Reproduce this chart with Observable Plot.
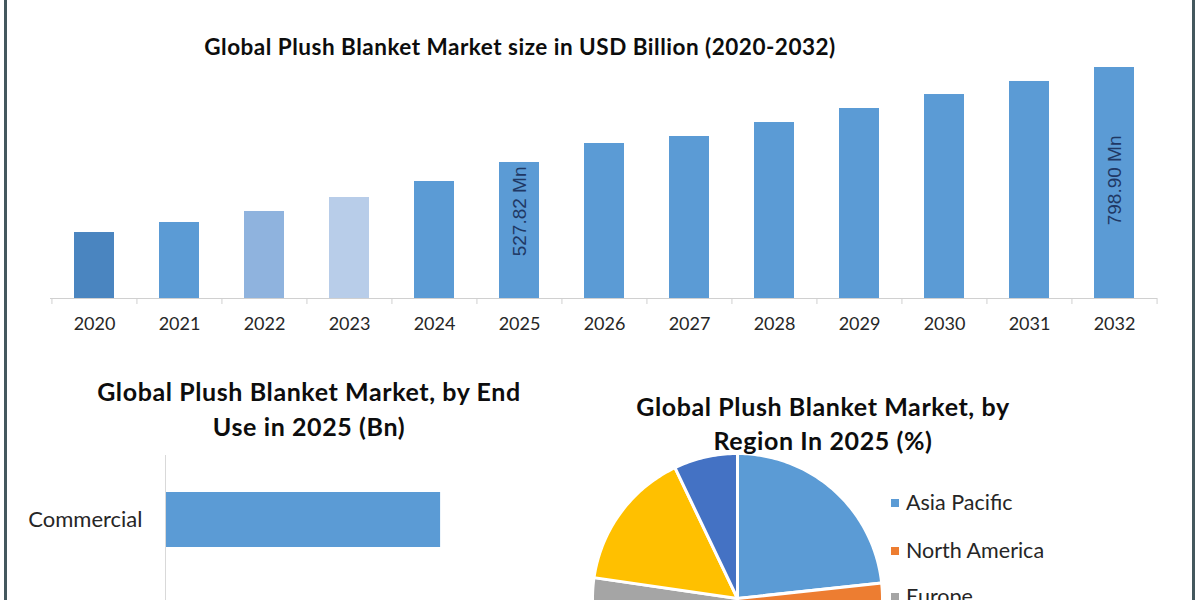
<!DOCTYPE html>
<html>
<head>
<meta charset="utf-8">
<script src="https://cdn.jsdelivr.net/npm/d3@7"></script>
<script src="https://cdn.jsdelivr.net/npm/@observablehq/plot@0.6"></script>
<style>
  html, body { margin: 0; padding: 0; }
  body { width: 1200px; height: 600px; overflow: hidden; position: relative; background: #ffffff; font-family: Lato, "Open Sans", sans-serif; }
  .abs { position: absolute; }
  .title { font-weight: 700; color: #0d0d0d; text-align: center; white-space: nowrap; }
  .border { position: absolute; top: 0; height: 600px; width: 3px; background: #44585e; }
  .leg { position: absolute; font-size: 21.5px; line-height: 24px; color: #262626; white-space: nowrap; }
  .leg span.sw { display: inline-block; width: 8px; height: 8px; margin-right: 7px; vertical-align: 3px; }
  svg { overflow: visible; }
</style>
</head>
<body>
<script>
// ---------- Data ----------
const years = ["2020","2021","2022","2023","2024","2025","2026","2027","2028","2029","2030","2031","2032"];
const marketSize = [328.0, 356.6, 388.0, 427.9, 473.6, 527.82, 582.0, 602.0, 641.9, 681.9, 721.8, 759.0, 798.90];
const barColors = ["#4a85c0","#5b9bd5","#8fb3de","#b8cde9","#5b9bd5","#5b9bd5","#5b9bd5","#5b9bd5","#5b9bd5","#5b9bd5","#5b9bd5","#5b9bd5","#5b9bd5"];
const valueLabels = [{year: "2025", value: 527.82, text: "527.82 Mn"}, {year: "2032", value: 798.90, text: "798.90 Mn"}];
const axisMin = 139.7;

const endUse = ["Commercial"];
const endUseValues = [0.28];

const regions = ["Asia Pacific", "North America", "Europe", "Middle East and Africa", "South America"];
const regionShares = [23.3, 28.0, 26.0, 15.6, 7.1];
const regionColors = ["#5b9bd5", "#ed7d31", "#a5a5a5", "#ffc000", "#4472c4"];
const legendShown = 3; // entries visible within the picture

const titleMain = "Global Plush Blanket Market size in USD Billion (2020-2032)";
const titleEndUse = ["Global Plush Blanket Market, by End", "Use in 2025 (Bn)"];
const titleRegion = ["Global Plush Blanket Market, by", "Region In 2025 (%)"];

// ---------- helpers ----------
function addDiv(cls, html, style) {
  const d = document.createElement("div");
  d.className = cls;
  d.innerHTML = html;
  Object.assign(d.style, style);
  document.body.appendChild(d);
  return d;
}
function place(node, x, y) {
  node.style.position = "absolute";
  node.style.left = x + "px";
  node.style.top = y + "px";
  document.body.appendChild(node);
}

// borders
addDiv("border", "", {left: "4px"});
addDiv("border", "", {left: "1192px"});

// ---------- Top bar chart ----------
const barData = years.map((y, i) => ({year: y, value: marketSize[i], color: barColors[i]}));
const W = 1200, mL = 50, mR = 43;
const step = (W - mL - mR) / years.length;

const topPlot = Plot.plot({
  width: W, height: 345,
  marginLeft: mL, marginRight: mR, marginTop: 67, marginBottom: 47,
  style: {background: "transparent", fontFamily: "Lato, sans-serif"},
  x: {domain: years, paddingInner: 0.53, paddingOuter: 0.265, label: null},
  y: {domain: [axisMin, 798.90], axis: null},
  marks: [
    Plot.barY(barData, {x: "year", y1: () => axisMin, y2: "value", fill: "color"}),
    Plot.ruleY([axisMin], {stroke: "#d0d0d0", strokeWidth: 1}),
    Plot.axisX({tickSize: 6, text: null, stroke: "#d0d0d0", dx: -step / 2, label: null}),
    Plot.axisX({ticks: [years[years.length - 1]], tickSize: 6, text: null, stroke: "#d0d0d0", dx: step / 2, label: null}),
    Plot.axisX({tickSize: 0, tickPadding: 19, fontSize: 18, fill: "#262626", label: null}),
    Plot.text(valueLabels.filter(d => d.year === "2025"), {x: "year", y: "value", text: "text", rotate: -90, textAnchor: "end", lineAnchor: "middle", dy: 4, fontSize: 19, fontFamily: "Liberation Sans, Arial, sans-serif", fill: "#1f3864"}),
    Plot.text(valueLabels.filter(d => d.year === "2032"), {x: "year", y: "value", text: "text", rotate: -90, textAnchor: "end", lineAnchor: "middle", dy: 68, fontSize: 19, fontFamily: "Liberation Sans, Arial, sans-serif", fill: "#1f3864"})
  ]
});
place(topPlot, 0, 0);

addDiv("title abs", titleMain, {left: "0px", width: "1040px", top: "36px", fontSize: "22.5px", lineHeight: "22px", letterSpacing: "0.5px"});

// ---------- Bottom-left horizontal bar ----------
const endData = endUse.map((c, i) => ({cat: c, value: endUseValues[i]}));
const endPlot = Plot.plot({
  width: 600, height: 145,
  marginLeft: 165, marginRight: 42, marginTop: 37, marginBottom: 53,
  style: {background: "transparent", fontFamily: "Lato, sans-serif"},
  x: {domain: [0, 0.4], axis: null},
  y: {domain: endUse, paddingInner: 0, paddingOuter: 0, label: null},
  marks: [
    Plot.barX(endData, {y: "cat", x: "value", fill: "#5b9bd5"}),
    Plot.ruleX([0], {stroke: "#d9d9d9", insetTop: -37, insetBottom: -60}),
    Plot.axisY({tickSize: 0, tickPadding: 23, fontSize: 22, fill: "#262626", label: null})
  ]
});
place(endPlot, 0, 455);

addDiv("title abs", titleEndUse.join("<br>"), {left: "9px", width: "600px", top: "374px", fontSize: "25px", lineHeight: "35px", letterSpacing: "0.6px"});

// ---------- Bottom-right pie ----------
const total = d3.sum(regionShares);
let acc = 0;
const slices = regions.map((r, i) => {
  const a0 = acc / total * 2 * Math.PI;
  acc += regionShares[i];
  const a1 = acc / total * 2 * Math.PI;
  const pts = [{x: 0, y: 0}];
  const n = Math.max(2, Math.ceil((a1 - a0) / (Math.PI / 180)));
  for (let k = 0; k <= n; k++) {
    const a = a0 + (a1 - a0) * k / n;
    pts.push({x: Math.sin(a), y: Math.cos(a)});
  }
  pts.push({x: 0, y: 0});
  return {region: r, color: regionColors[i], pts};
});

const piePlot = Plot.plot({
  width: 320, height: 320,
  margin: 15,
  style: {background: "transparent"},
  x: {domain: [-1, 1], axis: null},
  y: {domain: [-1, 1], axis: null},
  marks: slices.map(s => Plot.line(s.pts, {x: "x", y: "y", fill: s.color, stroke: "white", strokeWidth: 3, strokeLinejoin: "round"}))
});
place(piePlot, 577, 438);

addDiv("title abs", titleRegion.join("<br>"), {left: "523px", width: "600px", top: "389px", fontSize: "25px", lineHeight: "34px", letterSpacing: "0.6px"});

// legend
const legTops = [490, 538, 584];
regions.slice(0, legendShown).forEach((r, i) => {
  addDiv("leg", `<span class="sw" style="background:${regionColors[i]}"></span>${r}`, {left: "891px", top: legTops[i] + "px"});
});
</script>
</body>
</html>
